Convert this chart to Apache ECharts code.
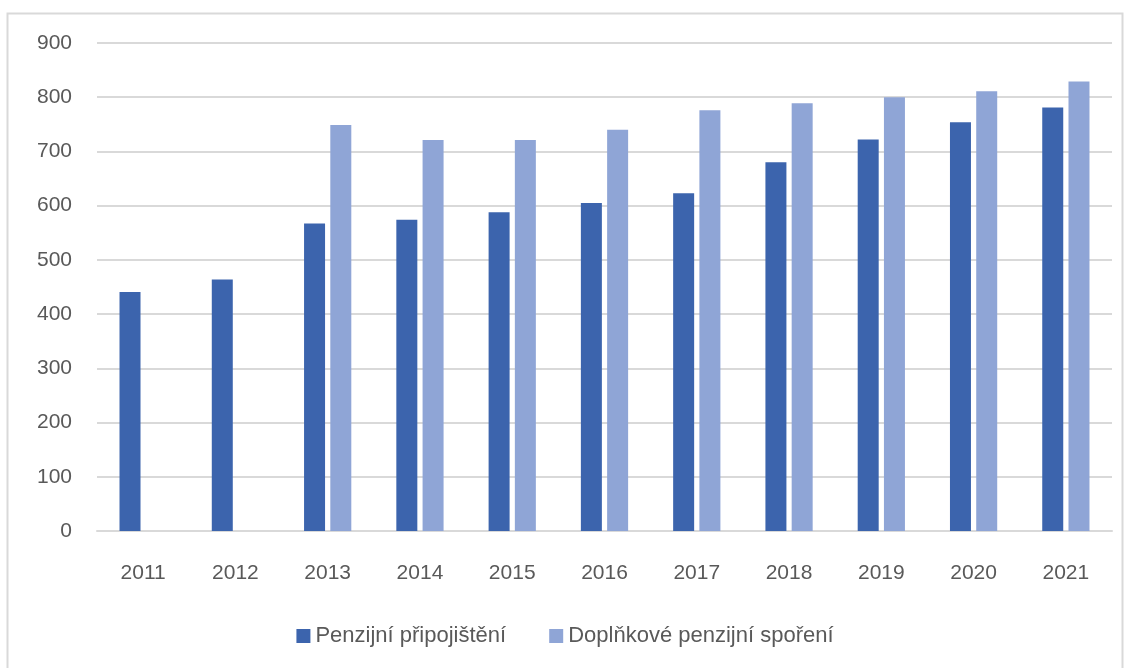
<!DOCTYPE html>
<html>
<head>
<meta charset="utf-8">
<script src="https://cdn.jsdelivr.net/npm/echarts@6/dist/echarts.min.js"></script>
<style>
  html, body { margin: 0; padding: 0; background: #fff; }
  #chart { width: 1130px; height: 668px; }
</style>
</head>
<body>
<div id="chart"></div>
<script>
// hodnoty
var years = ['2011', '2012', '2013', '2014', '2015', '2016', '2017', '2018', '2019', '2020', '2021'];
var penzijniPripojisteni = [441, 464, 567, 574, 588, 605, 623, 680, 722, 754, 781];
var doplnkoveSporeni = [null, null, 749, 721, 721, 740, 776, 789, 800, 811, 829];

var chart = echarts.init(document.getElementById('chart'));

chart.setOption({
    animation: false,
    textStyle: {fontFamily: 'Liberation Sans, Arial, sans-serif'},
    graphic: [{
        type: 'rect',
        shape: {x: 7.5, y: 13.5, width: 1115, height: 680},
        style: {fill: 'none', stroke: '#d9d9d9', lineWidth: 2},
        silent: true
    }],
    grid: {left: 97, right: 18, top: 43, bottom: 137},
    legend: {
        bottom: 16,
        left: 'center',
        itemWidth: 14,
        itemHeight: 14,
        itemGap: 43,
        icon: 'rect',
        textStyle: {fontSize: 22, color: '#595959'},
        data: ['Penzijní připojištění', 'Doplňkové penzijní spoření']
    },
    xAxis: {
        type: 'category',
        data: years,
        axisLine: {lineStyle: {color: '#d9d9d9', width: 2}},
        axisTick: {show: false},
        axisLabel: {fontSize: 21, color: '#595959', margin: 32}
    },
    yAxis: {
        type: 'value',
        min: 0,
        max: 900,
        interval: 100,
        axisLine: {show: false},
        axisTick: {show: false},
        axisLabel: {fontSize: 21, color: '#595959', margin: 25},
        splitLine: {lineStyle: {color: '#d9d9d9', width: 2}}
    },
    series: [
        {
            name: 'Penzijní připojištění',
            type: 'bar',
            data: penzijniPripojisteni,
            barWidth: 21,
            barGap: '25%',
            itemStyle: {color: '#3c64ad'}
        },
        {
            name: 'Doplňkové penzijní spoření',
            type: 'bar',
            data: doplnkoveSporeni,
            barWidth: 21,
            itemStyle: {color: '#8fa5d6'}
        }
    ]
});
</script>
</body>
</html>
